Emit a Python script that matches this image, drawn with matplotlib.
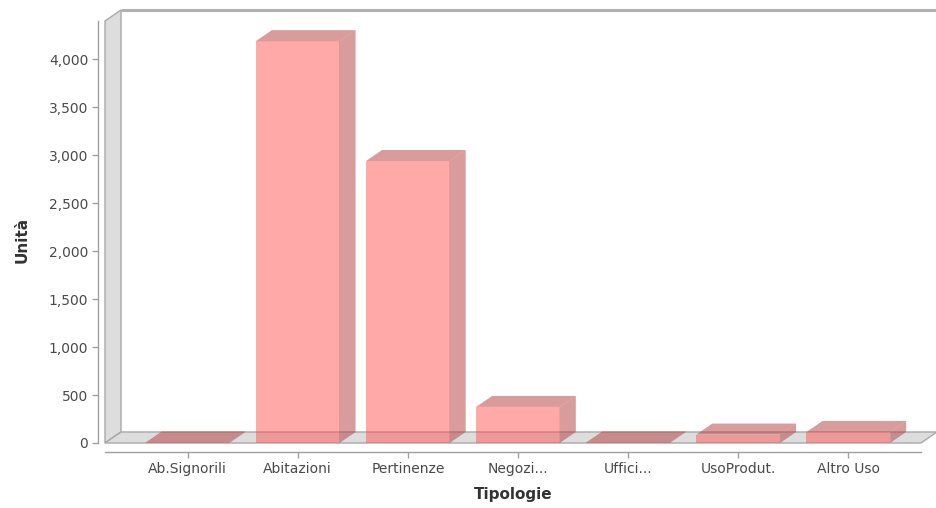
import matplotlib
matplotlib.use('Agg')
import matplotlib.pyplot as plt
from matplotlib.patches import Polygon
from matplotlib.ticker import FuncFormatter

categories = ['Ab.Signorili', 'Abitazioni', 'Pertinenze', 'Negozi...',
              'Uffici...', 'UsoProdut.', 'Altro Uso']
values = [6, 4190, 2940, 376, 6, 88, 115]

W, H = 937, 508
fig = plt.figure(figsize=(W / 100, H / 100), dpi=100)
fig.patch.set_facecolor('white')

# front plot area in pixels (left, right, top, bottom)
L, R, T, B = 105, 921, 21, 443
ax = fig.add_axes([L / W, (H - B) / H, (R - L) / W, (B - T) / H])
ax.set_facecolor('none')
x0, x1 = -0.75, 6.66
ymax = 4400
ax.set_xlim(x0, x1)
ax.set_ylim(0, ymax)

# 3d depth (pixels) converted to data units
DX, DY = 16, 11
dx = DX / ((R - L) / (x1 - x0))
dy = DY / ((B - T) / ymax)

wall = '#dddddd'
edge = '#a8a8a8'
# left wall and floor
ax.add_patch(Polygon([(x0, 0), (x0 + dx, dy), (x0 + dx, ymax + dy), (x0, ymax)],
                     closed=True, fc=wall, ec=edge, lw=1, clip_on=False, zorder=0))
ax.add_patch(Polygon([(x0, 0), (x1, 0), (x1 + dx, dy), (x0 + dx, dy)],
                     closed=True, fc=wall, ec=edge, lw=1, clip_on=False, zorder=0))
# back wall outline
ax.plot([x0 + dx, x1 + dx + 1], [ymax + dy, ymax + dy], color='#b0b0b0', lw=2.2,
        clip_on=False, zorder=0, solid_capstyle='butt')

bw = 0.76
red = '#ff5555'
dark = '#b23b3b'
for i, v in enumerate(values):
    a, b = i - bw / 2, i + bw / 2
    ax.bar(i, v, width=bw, color=red, alpha=0.5, lw=0, zorder=2)
    # side and top faces
    ax.add_patch(Polygon([(b, 0), (b + dx, dy), (b + dx, v + dy), (b, v)],
                         closed=True, fc=dark, alpha=0.5, lw=0, zorder=2, clip_on=False))
    ax.add_patch(Polygon([(a, v), (b, v), (b + dx, v + dy), (a + dx, v + dy)],
                         closed=True, fc=dark, alpha=0.5, lw=0, zorder=2, clip_on=False))

for s in ['top', 'right']:
    ax.spines[s].set_visible(False)
ax.spines['left'].set_position(('outward', 5))
ax.spines['bottom'].set_position(('outward', 6.5))
for s in ['left', 'bottom']:
    ax.spines[s].set_color('#a0a0a0')
    ax.spines[s].set_linewidth(1)

ax.set_yticks(range(0, 4001, 500))
ax.yaxis.set_major_formatter(FuncFormatter(lambda v, p: f'{int(v):,}'))
ax.set_xticks(range(len(categories)))
ax.set_xticklabels(categories)
ax.tick_params(axis='both', colors='#a0a0a0', labelcolor='#4a4a4a',
               labelsize=10, length=4, width=1)
ax.tick_params(axis='y', pad=3)
ax.tick_params(axis='x', pad=3)

fig.text(513 / W, 1 - 494 / H, 'Tipologie', ha='center', va='center',
         fontsize=11, fontweight='bold', color='#333333')
fig.text(22 / W, 1 - 240 / H, 'Unità', ha='center', va='center', rotation=90,
         fontsize=11, fontweight='bold', color='#333333')

fig.savefig('out.png', dpi=100)
